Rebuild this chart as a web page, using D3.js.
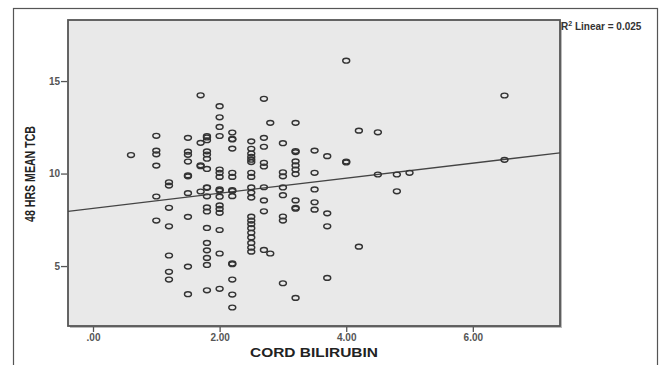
<!DOCTYPE html>
<html>
<head>
<meta charset="utf-8">
<script src="https://cdn.jsdelivr.net/npm/d3@7"></script>
<style>
  html, body { margin: 0; padding: 0; background: #fff; }
  svg { display: block; font-family: "Liberation Sans", Arial, sans-serif; }
</style>
</head>
<body>
<svg id="chart" width="659" height="365"></svg>
<script>
// cord bilirubin columns and the 48 hr mean TCB readings at each one
const cordValues = [0.6, 1.0, 1.2, 1.5, 1.7, 1.8, 2.0, 2.2, 2.5, 2.7, 2.8, 3.0, 3.2, 3.5, 3.7, 4.0, 4.2, 4.5, 4.8, 5.0, 6.5];
const tcbValues = [
  [11.0],
  [12.04, 11.24, 11.04, 10.43, 8.76, 7.46],
  [9.53, 9.35, 8.15, 7.15, 5.57, 4.69, 4.27],
  [11.93, 11.18, 11.01, 10.65, 9.9, 9.85, 8.94, 7.66, 4.97, 3.48],
  [14.23, 11.66, 10.45, 10.4, 9.03],
  [12.02, 11.95, 11.8, 11.2, 11.03, 10.8, 10.25, 9.26, 9.23, 8.77, 8.17, 7.95, 7.06, 6.25, 5.85, 5.44, 5.06, 3.69],
  [13.64, 13.04, 12.52, 12.03, 10.22, 10.04, 9.82, 9.14, 9.08, 8.75, 8.28, 8.09, 7.88, 6.95, 5.68, 3.77],
  [12.22, 11.87, 11.84, 11.35, 10.04, 9.82, 9.1, 9.06, 8.78, 5.14, 5.1, 4.27, 3.46, 2.76],
  [11.74, 11.34, 11.08, 10.9, 10.75, 10.62, 10.04, 9.82, 9.25, 8.97, 8.7, 7.67, 7.46, 7.27, 7.05, 6.8, 6.55, 6.25, 6.0, 5.78],
  [14.04, 11.93, 11.45, 10.58, 10.38, 9.26, 8.55, 7.96, 5.87],
  [12.74, 5.68],
  [11.64, 10.07, 9.85, 9.25, 8.83, 7.68, 7.46, 4.07],
  [12.74, 11.22, 11.16, 10.66, 10.44, 10.22, 9.97, 8.55, 8.15, 8.1, 3.28],
  [11.24, 10.04, 9.14, 8.45, 8.05],
  [10.94, 7.85, 7.15, 4.36],
  [16.1, 10.65, 10.6],
  [12.32, 6.05],
  [12.23, 9.95],
  [9.95, 9.04],
  [10.04],
  [14.22, 10.74]
];
const xTicks = [0, 2, 4, 6];
const yTicks = [5, 10, 15];
const xDomain = [-0.395, 7.377];
const yDomain = [1.76, 18.3];
// linear fit shown on the chart
const fitIntercept = 8.12;
const fitSlope = 0.4067;
const fitLabel = 'Linear = 0.025';

const points = [];
cordValues.forEach((c, i) => tcbValues[i].forEach(v => points.push({ x: c, y: v })));

const svg = d3.select('#chart');
const plot = { left: 68, top: 20, right: 560, bottom: 326 };

const x = d3.scaleLinear().domain(xDomain).range([plot.left, plot.right]);
const y = d3.scaleLinear().domain(yDomain).range([plot.bottom, plot.top]);

// outer frame
svg.append('rect')
  .attr('x', 13.5).attr('y', 8.5)
  .attr('width', 644).attr('height', 370)
  .attr('fill', '#fff')
  .attr('stroke', '#555')
  .attr('stroke-width', 1.2);

// plot shadow + background
svg.append('rect')
  .attr('x', plot.left + 2).attr('y', plot.top + 2)
  .attr('width', plot.right - plot.left).attr('height', plot.bottom - plot.top)
  .attr('fill', '#bbb');
svg.append('rect')
  .attr('x', plot.left).attr('y', plot.top)
  .attr('width', plot.right - plot.left).attr('height', plot.bottom - plot.top)
  .attr('fill', '#e9e9e9')
  .attr('stroke', '#555')
  .attr('stroke-width', 1.8);

// axes
const xAxis = svg.append('g')
  .attr('transform', `translate(0,${plot.bottom + 1})`)
  .call(d3.axisBottom(x).tickValues(xTicks).tickSize(5).tickPadding(2)
    .tickFormat(d => d === 0 ? '.00' : d3.format('.2f')(d)));
const yAxis = svg.append('g')
  .attr('transform', `translate(${plot.left - 1},0)`)
  .call(d3.axisLeft(y).tickValues(yTicks).tickSize(6).tickPadding(1)
    .tickFormat(d3.format('d')));

[xAxis, yAxis].forEach(ax => {
  ax.select('.domain').remove();
  ax.selectAll('line').attr('stroke', '#555').attr('stroke-width', 1.3);
  ax.selectAll('text')
    .attr('fill', '#555')
    .attr('font-size', '10px')
    .attr('font-weight', 'bold')
    .attr('font-family', '"Liberation Sans", Arial, sans-serif');
});

// fit line
svg.append('clipPath').attr('id', 'plotClip')
  .append('rect')
  .attr('x', plot.left).attr('y', plot.top)
  .attr('width', plot.right - plot.left).attr('height', plot.bottom - plot.top);

svg.append('line')
  .attr('clip-path', 'url(#plotClip)')
  .attr('x1', x(xDomain[0])).attr('y1', y(fitIntercept + fitSlope * xDomain[0]))
  .attr('x2', x(xDomain[1])).attr('y2', y(fitIntercept + fitSlope * xDomain[1]))
  .attr('stroke', '#444')
  .attr('stroke-width', 1.3);

// points
svg.append('g')
  .selectAll('ellipse')
  .data(points)
  .join('ellipse')
  .attr('cx', d => x(d.x))
  .attr('cy', d => y(d.y))
  .attr('rx', 3.5)
  .attr('ry', 2.4)
  .attr('fill', 'none')
  .attr('stroke', '#333')
  .attr('stroke-width', 1.4);

// axis titles
svg.append('text')
  .attr('x', (plot.left + plot.right) / 2)
  .attr('y', 357)
  .attr('text-anchor', 'middle')
  .attr('font-size', '13px')
  .attr('font-weight', 'bold')
  .attr('fill', '#222')
  .attr('textLength', 128)
  .attr('lengthAdjust', 'spacingAndGlyphs')
  .text('CORD BILIRUBIN');

svg.append('text')
  .attr('transform', 'translate(35,174) rotate(-90)')
  .attr('text-anchor', 'middle')
  .attr('font-size', '14px')
  .attr('font-weight', 'bold')
  .attr('fill', '#222')
  .attr('textLength', 96)
  .attr('lengthAdjust', 'spacingAndGlyphs')
  .text('48 HRS MEAN TCB');

// R² label
const r2 = svg.append('text')
  .attr('x', 561)
  .attr('y', 30)
  .attr('font-size', '10px')
  .attr('font-weight', 'bold')
  .attr('fill', '#333');
r2.append('tspan').text('R');
r2.append('tspan').attr('dy', -4).attr('font-size', '7px').text('2');
r2.append('tspan').attr('dy', 4).text(' ' + fitLabel);
</script>
</body>
</html>
